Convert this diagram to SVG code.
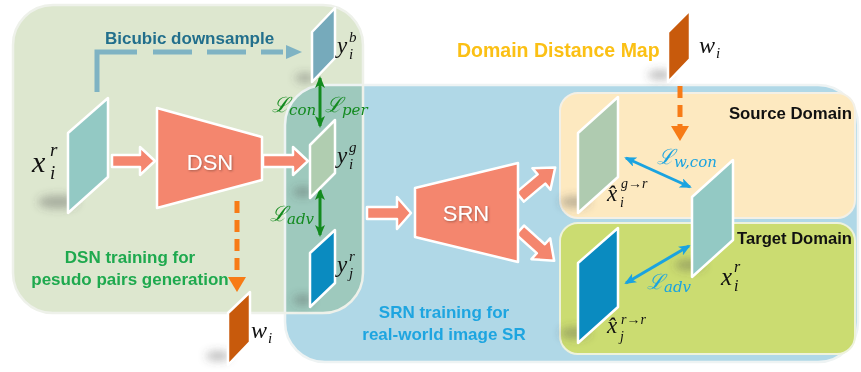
<svg xmlns="http://www.w3.org/2000/svg" width="861" height="372" viewBox="0 0 861 372">
<style>
.lbl{font-family:"Liberation Sans",Arial,sans-serif;font-weight:bold}
.m{font-family:"Liberation Serif","DejaVu Serif",serif;font-style:italic;fill:#111}
.sc{font-family:"DejaVu Serif","Liberation Serif",serif;font-style:italic}
.plate{stroke:#ffffff;stroke-width:2.5;stroke-linejoin:round}
.net{fill:#f4866e;stroke:#ffffff;stroke-width:2.5;stroke-linejoin:round}
.netlbl{font-family:"Liberation Sans",Arial,sans-serif;font-size:22px;fill:#ffffff}
.sh{fill:#4a4a4a;opacity:0.35}
</style>
<defs>
<filter id="blur" x="-50%" y="-50%" width="200%" height="200%"><feGaussianBlur stdDeviation="4"/></filter>
<filter id="ts" x="-20%" y="-20%" width="140%" height="140%"><feDropShadow dx="1" dy="1" stdDeviation="0.8" flood-color="#6a3a30" flood-opacity="0.6"/></filter>
<clipPath id="gclip"><rect x="13" y="5" width="350" height="308" rx="40"/></clipPath>
<marker id="ag" viewBox="0 0 12 10" refX="10" refY="5" markerWidth="12" markerHeight="10" markerUnits="userSpaceOnUse" orient="auto-start-reverse"><path d="M0,0 L12,5 L0,10 L3,5 Z" fill="#138a1f"/></marker>
<marker id="ab" viewBox="0 0 12 10" refX="10" refY="5" markerWidth="12" markerHeight="10" markerUnits="userSpaceOnUse" orient="auto-start-reverse"><path d="M0,0 L12,5 L0,10 L3,5 Z" fill="#1aa3e0"/></marker>
</defs>

<g id="panels">
<rect id="srn-panel" x="285" y="85" width="573" height="277" rx="40" fill="#b0d8e7"/>
<rect id="dsn-panel" x="13" y="5" width="350" height="308" rx="40" fill="#dde7cf"/>
<rect x="285" y="85" width="573" height="277" rx="40" fill="#9ec9bd" clip-path="url(#gclip)"/>
<rect x="285" y="85" width="573" height="277" rx="40" fill="none" stroke="#eef3f3" stroke-width="2.5"/>
<rect x="13" y="5" width="350" height="308" rx="40" fill="none" stroke="#eef1ea" stroke-width="2.5"/>
<rect id="source-domain" x="560" y="93" width="295" height="125" rx="18" fill="#fde9c0" stroke="#f3f0e6" stroke-width="2"/>
<rect id="target-domain" x="560" y="223" width="295" height="131" rx="18" fill="#cbdc71" stroke="#eef2dc" stroke-width="2"/>
</g>

<g id="shadows" filter="url(#blur)">
<ellipse class="sh" cx="58" cy="202" rx="20" ry="7"/>
<ellipse class="sh" cx="305" cy="78" rx="10" ry="5"/>
<ellipse class="sh" cx="303" cy="192" rx="10" ry="5"/>
<ellipse class="sh" cx="303" cy="300" rx="10" ry="5"/>
<ellipse class="sh" cx="218" cy="356" rx="12" ry="5"/>
<ellipse class="sh" cx="660" cy="75" rx="12" ry="5"/>
<ellipse class="sh" cx="575" cy="202" rx="15" ry="6"/>
<ellipse class="sh" cx="690" cy="265" rx="15" ry="6"/>
<ellipse class="sh" cx="575" cy="333" rx="15" ry="6"/>
</g>

<g id="connectors">
<path d="M97,92 V52 H137" fill="none" stroke="#7fb3c3" stroke-width="5"/>
<path d="M153,52 H283" fill="none" stroke="#7fb3c3" stroke-width="5" stroke-dasharray="39 15"/>
<polygon points="286,45 302,52 286,59" fill="#7fb3c3"/>
<path d="M112,155 H140 V147 L155,161 L140,175 V167 H112 Z" class="net" stroke-width="1.5"/>
<path d="M263,155 H293 V147 L308,161 L293,175 V167 H263 Z" class="net" stroke-width="1.5"/>
<path d="M367,207 H397 V197 L411,213 L397,229 V219 H367 Z" class="net" stroke-width="1.5"/>
<path d="M0,-6 H28 V-14 L46,0 L28,14 V6 H0 Z" class="net" stroke-width="1.5" transform="translate(520,197) rotate(-40)"/>
<path d="M0,-6 H28 V-14 L46,0 L28,14 V6 H0 Z" class="net" stroke-width="1.5" transform="translate(520,230) rotate(42)"/>
<line x1="237" y1="201" x2="237" y2="280" stroke="#f77b16" stroke-width="5" stroke-dasharray="12 7"/>
<polygon points="228,277 246,277 237,292" fill="#f77b16"/>
<line x1="680" y1="86" x2="680" y2="128" stroke="#f77b16" stroke-width="5" stroke-dasharray="12 7"/>
<polygon points="671,126 689,126 680,141" fill="#f77b16"/>
<line x1="320" y1="78" x2="320" y2="126" stroke="#138a1f" stroke-width="3" marker-start="url(#ag)" marker-end="url(#ag)"/>
<line x1="320" y1="190" x2="320" y2="235" stroke="#138a1f" stroke-width="3" marker-start="url(#ag)" marker-end="url(#ag)"/>
<line x1="626" y1="158" x2="690" y2="187" stroke="#1aa3e0" stroke-width="3" marker-start="url(#ab)" marker-end="url(#ab)"/>
<line x1="626" y1="283" x2="689" y2="246" stroke="#1aa3e0" stroke-width="3" marker-start="url(#ab)" marker-end="url(#ab)"/>
</g>

<g id="dsn"><polygon class="net" points="157,108 262,137 262,180 157,208"/><text class="netlbl" x="210" y="170" text-anchor="middle" filter="url(#ts)">DSN</text></g>
<g id="srn"><polygon class="net" points="415,188 518,163 518,262 415,237"/><text class="netlbl" x="466" y="221" text-anchor="middle" filter="url(#ts)">SRN</text></g>

<g id="x-left"><polygon class="plate" points="68,133 108,98 108,177 68,213" fill="#93c9c4"/>
<text class="m" x="32" y="172" font-size="30">x</text><text class="m" x="50" y="156" font-size="19">r</text><text class="m" x="50" y="179" font-size="19">i</text></g>

<g id="y-b"><polygon class="plate" points="312,32 335,8 335,58 312,82" fill="#76aabb"/>
<text class="m" x="337" y="53" font-size="23">y</text><text class="m" x="349" y="42" font-size="15">b</text><text class="m" x="349" y="59" font-size="15">i</text></g>

<g id="y-g"><polygon class="plate" points="310,145 335,120 335,173 310,198" fill="#b0cdb0"/>
<text class="m" x="337" y="163" font-size="23">y</text><text class="m" x="349" y="152" font-size="15">g</text><text class="m" x="349" y="169" font-size="15">i</text></g>

<g id="y-r"><polygon class="plate" points="310,253 335,230 335,283 310,307" fill="#0a8bc0"/>
<text class="m" x="337" y="272" font-size="23">y</text><text class="m" x="349" y="261" font-size="15">r</text><text class="m" x="349" y="278" font-size="15">j</text></g>

<g id="w-bottom"><polygon class="plate" points="228,313 250,292 250,342 228,365" fill="#c85a0c"/>
<text class="m" x="251" y="338" font-size="24">w</text><text class="m" x="268" y="343" font-size="15">i</text></g>

<g id="w-top"><polygon class="plate" points="668,32 690,10 690,59 668,82" fill="#c85a0c"/>
<text class="m" x="699" y="53" font-size="24">w</text><text class="m" x="716" y="58" font-size="15">i</text></g>

<g id="x-hat-g"><polygon class="plate" points="578,133 618,97 618,177 578,213" fill="#afcbb0"/>
<text class="m" x="607" y="201" font-size="23">x̂</text><text class="m" x="621" y="188" font-size="14">g→r</text><text class="m" x="620" y="207" font-size="14">i</text></g>

<g id="x-right"><polygon class="plate" points="692,197 733,160 733,240 692,277" fill="#93c9c4"/>
<text class="m" x="721" y="285" font-size="25">x</text><text class="m" x="734" y="272" font-size="16">r</text><text class="m" x="734" y="291" font-size="16">i</text></g>

<g id="x-hat-r"><polygon class="plate" points="578,263 618,228 618,307 578,343" fill="#0a8bc0"/>
<text class="m" x="607" y="333" font-size="23">x̂</text><text class="m" x="621" y="324" font-size="14">r→r</text><text class="m" x="620" y="341" font-size="14">j</text></g>

<g id="labels">
<text class="lbl" x="105" y="44" font-size="17" fill="#226f8c">Bicubic downsample</text>
<text class="lbl" x="130" y="263" font-size="17" fill="#1ea94e" text-anchor="middle">DSN training for</text>
<text class="lbl" x="130" y="285" font-size="17" fill="#1ea94e" text-anchor="middle">pesudo pairs generation</text>
<text class="lbl" x="444" y="318" font-size="17" fill="#1ea5e0" text-anchor="middle">SRN training for</text>
<text class="lbl" x="444" y="340" font-size="17" fill="#1ea5e0" text-anchor="middle">real-world image SR</text>
<text class="lbl" x="457" y="57" font-size="19.5" fill="#fbc015">Domain Distance Map</text>
<text class="lbl" x="852" y="119" font-size="16.8" fill="#111" text-anchor="end">Source Domain</text>
<text class="lbl" x="852" y="244" font-size="16.6" fill="#111" text-anchor="end">Target Domain</text>
<text class="sc" x="272" y="112" font-size="21" fill="#138a1f">ℒ<tspan font-size="15" dy="3">con</tspan></text>
<text class="sc" x="325" y="112" font-size="21" fill="#138a1f">ℒ<tspan font-size="15" dy="3">per</tspan></text>
<text class="sc" x="270" y="221" font-size="21" fill="#138a1f">ℒ<tspan font-size="15" dy="3">adv</tspan></text>
<text class="sc" x="657" y="164" font-size="21" fill="#1aa3e0">ℒ<tspan font-size="15" dy="3">w,con</tspan></text>
<text class="sc" x="647" y="289" font-size="21" fill="#1aa3e0">ℒ<tspan font-size="15" dy="3">adv</tspan></text>
</g>
</svg>
